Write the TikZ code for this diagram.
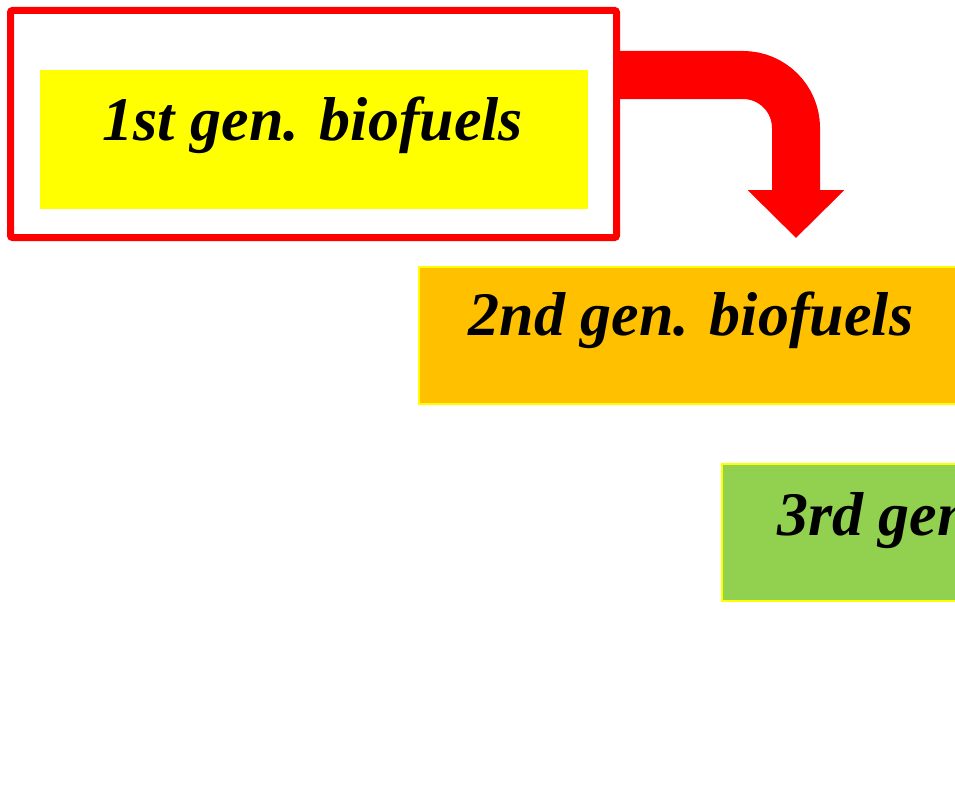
\documentclass[tikz,border=0pt]{standalone}
\usepackage{fontspec}
\setmainfont{Liberation Serif}
\usetikzlibrary{arrows.meta}
\definecolor{genyellow}{HTML}{FFFF00}
\definecolor{genorange}{HTML}{FFC000}
\definecolor{gengreen}{HTML}{92D050}
\definecolor{genred}{HTML}{FF0000}
\tikzset{
  genbox/.style={draw=genyellow,line width=1.5pt,anchor=north west,minimum width=546pt,minimum height=137pt,inner sep=0pt},
  genlabel/.style={anchor=base,inner sep=0pt,font=\fontsize{62}{70}\selectfont\bfseries\itshape},
  bigarrow/.style={draw=genred,line width=48pt,rounded corners=53pt,-{Triangle[width=94pt,length=48pt]}}
}
\begin{document}
\begin{tikzpicture}[x=1pt,y=-1pt]
\useasboundingbox (0,0) rectangle (955,808);
\begin{scope}
\clip (0,0) rectangle (955,808);

\node[genbox,fill=genyellow] (box1) at (40,70) {};
\node[genbox,fill=genorange] (box2) at (418,266) {};
\node[genbox,fill=gengreen] (box3) at (721,463) {};

\node[genlabel] (gen1) at (313,140) {1st gen. biofuels};
\node[genlabel] (gen2) at (691,335) {2nd gen. biofuels};
\node[genlabel] (gen3) at (994,535) {3rd gen. biofuels};

\node[draw=genred,line width=7pt,rounded corners=2pt,minimum width=606pt,minimum height=227pt,inner sep=0pt] (frame) at (313.5,124) {};

\coordinate (bendstart) at (617,75);
\coordinate (arrowtip) at (796,238);
\draw[bigarrow] (bendstart) -- (arrowtip |- bendstart) -- (arrowtip);
\end{scope}
\end{tikzpicture}
\end{document}
